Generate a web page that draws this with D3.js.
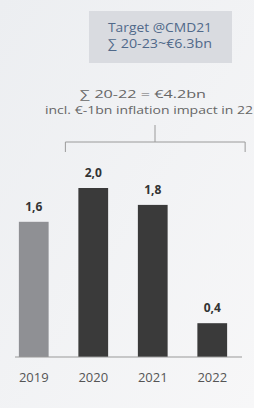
<!DOCTYPE html>
<html>
<head>
<meta charset="utf-8">
<script src="https://cdn.jsdelivr.net/npm/d3@7"></script>
<style>
body { margin: 0; background: #f3f4f6; }
svg { display: block; font-family: "Open Sans", Lato, sans-serif; }
</style>
</head>
<body>
<svg id="chart"></svg>
<script>
var years = ["2019", "2020", "2021", "2022"];
var values = [1.6, 2.0, 1.8, 0.4];
var valueLabels = ["1,6", "2,0", "1,8", "0,4"];
var barColors = ["#8f9094", "#3a3a3a", "#3a3a3a", "#3a3a3a"];
var targetLines = ["Target @CMD21", "\u2211 20-23~\u20ac6.3bn"];
var noteLines = ["\u2211 20-22 = \u20ac4.2bn", "incl. \u20ac-1bn inflation impact in 22"];

var width = 254, height = 408;
var svg = d3.select("#chart").attr("width", width).attr("height", height);

// faint background wash
var grad = svg.append("defs").append("linearGradient").attr("id", "bg")
    .attr("x1", 0).attr("y1", 0).attr("x2", 1).attr("y2", 1);
grad.append("stop").attr("offset", "0%").attr("stop-color", "#eceef1");
grad.append("stop").attr("offset", "100%").attr("stop-color", "#f7f7f8");
svg.append("rect").attr("width", width).attr("height", height).attr("fill", "url(#bg)");

var x = d3.scaleBand().domain(years).range([4, 242]).paddingInner(0.5).paddingOuter(0.25);
var y = d3.scaleLinear().domain([0, 2]).range([357, 188]);

// target box
svg.append("rect")
    .attr("x", 89).attr("y", 11).attr("width", 143).attr("height", 52)
    .attr("fill", "#d9dbe0");
svg.selectAll(".target").data(targetLines).enter().append("text")
    .attr("x", 160).attr("y", function(d, i) { return 32 + i * 16; })
    .attr("text-anchor", "middle")
    .attr("font-size", 12)
    .attr("fill", "#50698a")
    .attr("textLength", 104).attr("lengthAdjust", "spacingAndGlyphs")
    .text(function(d) { return d; });

// note
svg.append("text").attr("x", 143).attr("y", 98).attr("text-anchor", "middle")
    .attr("font-size", 10.5).attr("fill", "#666")
    .attr("textLength", 126).attr("lengthAdjust", "spacingAndGlyphs").text(noteLines[0]);
svg.append("text").attr("x", 45).attr("y", 114).attr("text-anchor", "start")
    .attr("font-size", 10.5).attr("fill", "#666")
    .attr("textLength", 208).attr("lengthAdjust", "spacingAndGlyphs").text(noteLines[1]);

// bracket over 2020-2022
var bl = x("2020") - 13, br = x("2022") + x.bandwidth() + 18, bm = 155;
svg.append("path")
    .attr("d", "M" + bl + ",152V142H" + br + "V152M" + bm + ",142V125")
    .attr("fill", "none").attr("stroke", "#9a9a9a").attr("stroke-width", 1);

// bars
svg.selectAll(".bar").data(values).enter().append("rect")
    .attr("x", function(d, i) { return x(years[i]); })
    .attr("y", function(d) { return y(d); })
    .attr("width", x.bandwidth())
    .attr("height", function(d) { return y(0) - y(d); })
    .attr("fill", function(d, i) { return barColors[i]; });

svg.selectAll(".vlabel").data(values).enter().append("text")
    .attr("x", function(d, i) { return x(years[i]) + x.bandwidth() / 2; })
    .attr("y", function(d) { return y(d) - 11; })
    .attr("text-anchor", "middle")
    .attr("font-size", 12).attr("font-weight", "bold").attr("fill", "#333")
    .text(function(d, i) { return valueLabels[i]; });

// axis
var axis = svg.append("g").attr("transform", "translate(0," + y(0) + ")")
    .call(d3.axisBottom(x).tickSize(0).tickPadding(16));
axis.select(".domain").attr("d", "M15,0H242").attr("stroke", "#999");
axis.selectAll("text").attr("font-size", 13).attr("fill", "#555")
    .attr("font-family", "'Open Sans', Lato, sans-serif");
</script>
</body>
</html>
